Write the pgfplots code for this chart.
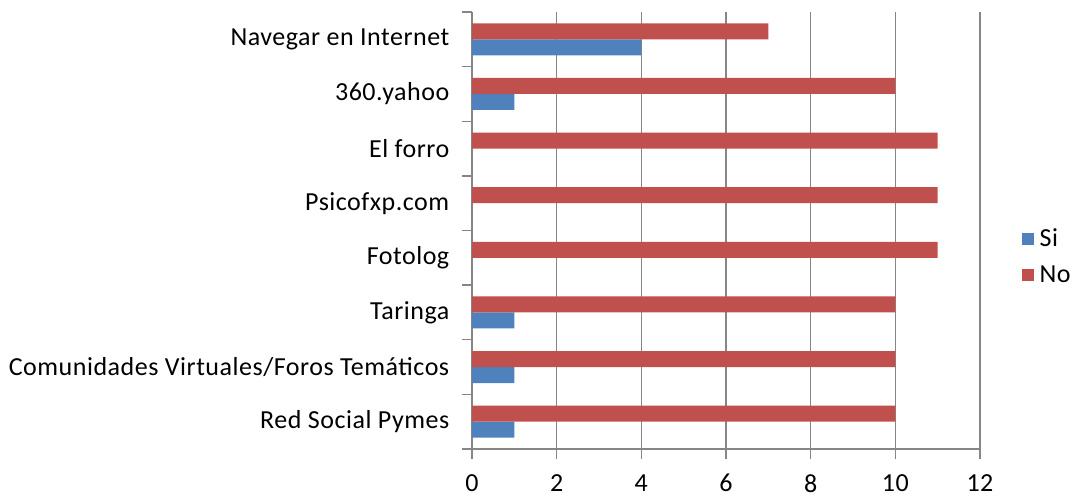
\documentclass[border=0pt]{standalone}
\usepackage{pgfplots}
\pgfplotsset{compat=1.18}
\usepackage{fontspec}
\setmainfont{Carlito}[LetterSpace=2]
\definecolor{siblue}{HTML}{4F81BD}
\definecolor{nored}{HTML}{C0504D}
\definecolor{gridgray}{HTML}{868686}
\begin{document}
\begin{tikzpicture}
\path (-354pt,-36pt) rectangle (456.75pt,336.75pt);
\begin{axis}[
  at={(0,0)}, anchor=south west,
  scale only axis, width=381pt, height=327.75pt,
  font=\fontsize{19.5}{23}\selectfont,
  /pgf/number format/assume math mode=true,
  xmin=0, xmax=12, xtick={0,2,...,12},
  ymin=-0.5, ymax=7.5,
  ytick={0,...,7},
  yticklabels={Red Social Pymes,Comunidades Virtuales/Foros Temáticos,Taringa,Fotolog,Psicofxp.com,El forro,360.yahoo,Navegar en Internet},
  extra y ticks={-0.5,0.5,...,7.5},
  extra y tick labels={},
  extra y tick style={major tick length=7.5pt, tick align=outside, ytick style={draw=gridgray, line width=1.1pt}},
  ytick style={draw=none},
  yticklabel style={xshift=-6pt},
  xtick style={draw=gridgray, line width=1.1pt},
  tick align=outside, major tick length=7.5pt,
  xticklabel style={yshift=-8pt},
  axis lines*=left,
  axis line style={draw=gridgray, line width=1.1pt},
  xmajorgrids, grid style={draw=gridgray, line width=1.1pt},
  xbar, bar width=0.293,
  legend style={at={(1.075,0.44)}, anchor=west, draw=none, fill=none,
    row sep=9pt, font=\fontsize{19.5}{23}\selectfont,
    nodes={inner xsep=4pt}},
  legend cell align=left,
  legend image code/.code={\fill[#1] (0pt,-4.5pt) rectangle (9pt,4.5pt);},
  clip=false,
]
\addplot[fill=siblue, draw=none, bar shift=-0.146] coordinates {
 (1,0) (1,1) (1,2) (0,3) (0,4) (0,5) (1,6) (4,7)};
\addlegendentry{Si}
\addplot[fill=nored, draw=none, bar shift=0.146] coordinates {
 (10,0) (10,1) (10,2) (11,3) (11,4) (11,5) (10,6) (7,7)};
\addlegendentry{No}
\end{axis}
\end{tikzpicture}
\end{document}
